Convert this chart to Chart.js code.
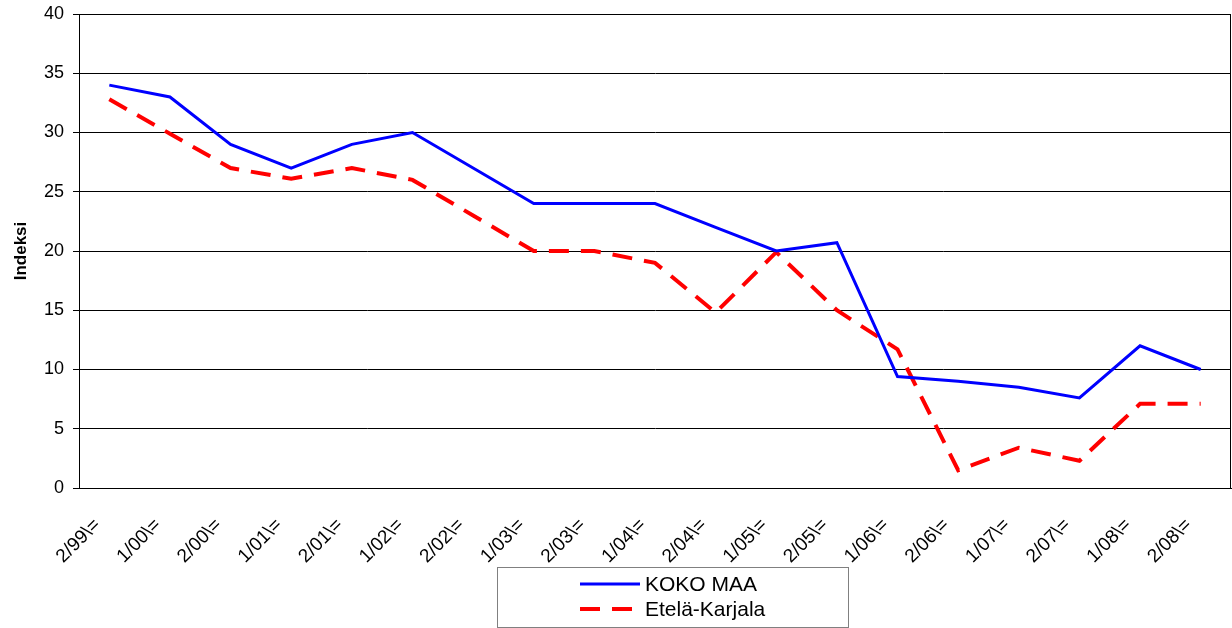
<!DOCTYPE html>
<html lang="fi">
<head>
<meta charset="utf-8">
<style>
  html, body { margin: 0; padding: 0; background: #fff; }
  #wrap { width: 1232px; height: 628px; position: relative; }
</style>
</head>
<body>
<div id="wrap"><canvas id="myChart"></canvas></div>
<script src="https://cdn.jsdelivr.net/npm/chart.js"></script>
<script>
const labels = ['2/99\\=', '1/00\\=', '2/00\\=', '1/01\\=', '2/01\\=', '1/02\\=', '2/02\\=', '1/03\\=', '2/03\\=', '1/04\\=',
  '2/04\\=', '1/05\\=', '2/05\\=', '1/06\\=', '2/06\\=', '1/07\\=', '2/07\\=', '1/08\\=', '2/08\\='];
const kokoMaa = [34, 33, 29, 27, 29, 30, 27, 24, 24, 24, 22, 20, 20.7, 9.4, 9, 8.5, 7.6, 12, 10];
const etelaKarjala = [32.8, 29.9, 27, 26.1, 27, 26, 23, 20, 20, 19, 14.8, 19.9, 15, 11.7, 1.5, 3.4, 2.3, 7.1, 7.1];
const yTicks = [0, 5, 10, 15, 20, 25, 30, 35, 40];

const FONT = '"Liberation Sans", Arial, sans-serif';

// frame round the plot and a boxed legend under the axis labels
const frameAndLegend = {
  id: 'frameAndLegend',
  afterDraw(chart) {
    const ctx = chart.ctx;
    const a = chart.chartArea;
    ctx.save();
    ctx.strokeStyle = '#000';
    ctx.lineWidth = 1;
    ctx.strokeRect(a.left + 0.5, a.top + 0.5, a.right - a.left - 1, a.bottom - a.top);

    // legend box
    const bx = 497.5, by = 567.5, bw = 351, bh = 60;
    ctx.strokeStyle = '#808080';
    ctx.strokeRect(bx, by, bw, bh);
    chart.data.datasets.forEach((ds, i) => {
      const y = 584 + i * 25;
      ctx.beginPath();
      ctx.strokeStyle = ds.borderColor;
      ctx.lineWidth = ds.borderWidth;
      ctx.setLineDash(ds.borderDash || []);
      ctx.moveTo(580, y);
      ctx.lineTo(640, y);
      ctx.stroke();
      ctx.setLineDash([]);
      ctx.fillStyle = '#000';
      ctx.font = '21px ' + FONT;
      ctx.textBaseline = 'middle';
      ctx.fillText(ds.label, 645, y + 1);
    });
    ctx.restore();
  }
};

const config = {
  type: 'line',
  data: {
    labels: labels,
    datasets: [{
      label: 'KOKO MAA',
      data: kokoMaa,
      borderColor: '#0000ff',
      borderWidth: 3,
      pointRadius: 0,
      tension: 0,
      fill: false
    }, {
      label: 'Etelä-Karjala',
      data: etelaKarjala,
      borderColor: '#ff0000',
      borderWidth: 4,
      borderDash: [20, 12],
      pointRadius: 0,
      tension: 0,
      fill: false
    }]
  },
  options: {
    responsive: true,
    maintainAspectRatio: false,
    animation: false,
    layout: { padding: { top: 14, right: 1, left: 0, bottom: 0 } },
    plugins: {
      legend: { display: false },
      tooltip: { enabled: false }
    },
    scales: {
      x: {
        offset: true,
        grid: { display: false, drawTicks: false },
        border: { display: true, color: '#000' },
        afterFit(scale) {
          scale.height = 140;
          scale.paddingLeft = 0;
          scale.paddingRight = 0;
        },
        ticks: {
          color: '#000',
          font: { family: FONT, size: 19 },
          maxRotation: 45,
          minRotation: 45,
          autoSkip: false,
          padding: 26,
          labelOffset: -12
        }
      },
      y: {
        min: 0,
        max: 40,
        afterBuildTicks(scale) { scale.ticks = yTicks.map(v => ({ value: v })); },
        afterFit(scale) {
          scale.width = 79;
          scale.paddingTop = 0;
          scale.paddingBottom = 0;
        },
        grid: { color: '#000', lineWidth: 1, drawTicks: true, tickLength: 6 },
        border: { display: true, color: '#000' },
        title: {
          display: true,
          text: 'Indeksi',
          color: '#000',
          font: { family: FONT, size: 17, weight: 'bold' },
          padding: { top: 11, bottom: 0 }
        },
        ticks: {
          color: '#000',
          font: { family: FONT, size: 18 },
          padding: 9
        }
      }
    }
  },
  plugins: [frameAndLegend]
};

const myChart = new Chart(document.getElementById('myChart'), config);
</script>
</body>
</html>
